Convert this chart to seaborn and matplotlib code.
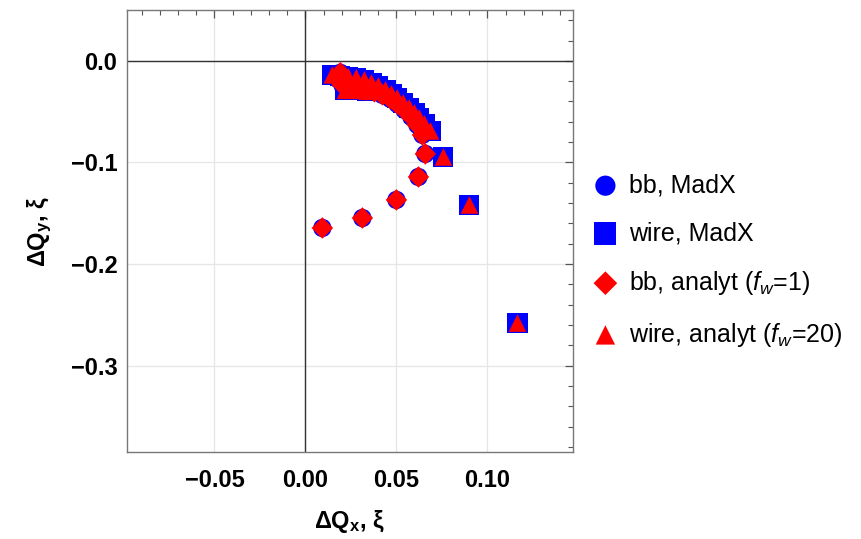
import numpy as np
import pandas as pd
import matplotlib.pyplot as plt
import seaborn as sns

# beam-beam points (MadX and analytic coincide)
bb_x = [0.0093, 0.0313, 0.0500, 0.0621, 0.0659, 0.0643, 0.0615, 0.0582, 0.0544,
        0.0505, 0.0467, 0.0423, 0.0379, 0.0335, 0.0291, 0.0247, 0.0203, 0.0176, 0.0192]
bb_y = [-0.1645, -0.1547, -0.1369, -0.1143, -0.0916, -0.0729, -0.0631, -0.0552, -0.0483,
        -0.0424, -0.0374, -0.0335, -0.0305, -0.0286, -0.0266, -0.0256, -0.0236, -0.0177, -0.0118]

# wire points
wire_x = [0.0148, 0.0192, 0.0236, 0.0280, 0.0324, 0.0363, 0.0401, 0.0440, 0.0473, 0.0505,
          0.0538, 0.0571, 0.0599, 0.0626, 0.0654, 0.0687, 0.0758, 0.0901, 0.1165,
          0.0220, 0.0260, 0.0300, 0.0340]
wire_y = [-0.0138, -0.0148, -0.0158, -0.0167, -0.0187, -0.0217, -0.0246, -0.0286, -0.0325, -0.0365,
          -0.0414, -0.0463, -0.0512, -0.0562, -0.0621, -0.0690, -0.0946, -0.1419, -0.2581,
          -0.0290, -0.0290, -0.0290, -0.0300]

bb = pd.DataFrame({'x': bb_x, 'y': bb_y})
wire = pd.DataFrame({'x': wire_x, 'y': wire_y})

sns.set_style('white')
plt.rcParams['font.family'] = ['Liberation Sans', 'DejaVu Sans']
plt.rcParams['mathtext.fontset'] = 'custom'
plt.rcParams['mathtext.rm'] = 'Liberation Sans'
plt.rcParams['mathtext.it'] = 'Liberation Sans:italic'
plt.rcParams['mathtext.bf'] = 'Liberation Sans:bold'
plt.rcParams['text.color'] = 'black'
plt.rcParams['axes.labelcolor'] = 'black'
plt.rcParams['xtick.labelcolor'] = 'black'
plt.rcParams['ytick.labelcolor'] = 'black'

fig = plt.figure(figsize=(8.61, 5.39), dpi=100)
ax = fig.add_axes([0.1475, 0.1614, 0.518, 0.82])

ax.grid(True, color='#e6e6e6', linewidth=0.9, zorder=0)
ax.axhline(0, color='#333333', linewidth=1.0, zorder=1)
ax.axvline(0, color='#333333', linewidth=1.0, zorder=1)

blue = '#0000ff'
red = '#ff0000'
sns.scatterplot(data=bb, x='x', y='y', ax=ax, marker='o', s=175, color=blue,
                edgecolor='none', label='bb, MadX', zorder=3)
sns.scatterplot(data=wire, x='x', y='y', ax=ax, marker='s', s=210, color=blue,
                edgecolor='none', label='wire, MadX', zorder=3)
sns.scatterplot(data=bb, x='x', y='y', ax=ax, marker='D', s=120, color=red,
                edgecolor='none', label=r'bb, analyt ($f_w$=1)', zorder=4)
sns.scatterplot(data=wire, x='x', y='y', ax=ax, marker='^', s=160, color=red,
                edgecolor='none', label=r'wire, analyt ($f_w$=20)', zorder=4)

ax.set_xlim(-0.098, 0.147)
ax.set_ylim(-0.385, 0.05)
ax.set_xticks([-0.05, 0.0, 0.05, 0.10])
ax.set_xticklabels(['\u22120.05', '0.00', '0.05', '0.10'])
ax.set_yticks([0.0, -0.1, -0.2, -0.3])
ax.set_yticklabels(['0.0', '\u22120.1', '\u22120.2', '\u22120.3'])
ax.set_xticks(np.arange(-0.09, 0.146, 0.01), minor=True)
ax.set_yticks(np.arange(-0.38, 0.05, 0.02), minor=True)
ax.tick_params(which='both', direction='in', top=True, right=True, color='#555555')
ax.tick_params(which='major', length=6, width=0.9, labelsize=17)
ax.tick_params(axis='x', which='major', pad=12)
ax.tick_params(axis='y', which='major', pad=7)
ax.tick_params(which='minor', length=3.5, width=0.8)
for lab in ax.get_xticklabels() + ax.get_yticklabels():
    lab.set_fontweight('bold')
for sp in ax.spines.values():
    sp.set_color('#777777')
    sp.set_linewidth(1.0)

ax.set_xlabel('\u0394Q$_\\mathbf{x}$, \u03be', fontsize=17, fontweight='bold', labelpad=12)
ax.set_ylabel('\u0394Q$_\\mathbf{y}$, \u03be', fontsize=17, fontweight='bold', labelpad=12)

ax.legend(loc='center left', bbox_to_anchor=(0.677, 0.516), bbox_transform=fig.transFigure,
          frameon=False, fontsize=18, labelspacing=0.95, handletextpad=0.45,
          handlelength=1.0, borderaxespad=0, markerscale=1.1)

fig.savefig('out.png', dpi=100)
